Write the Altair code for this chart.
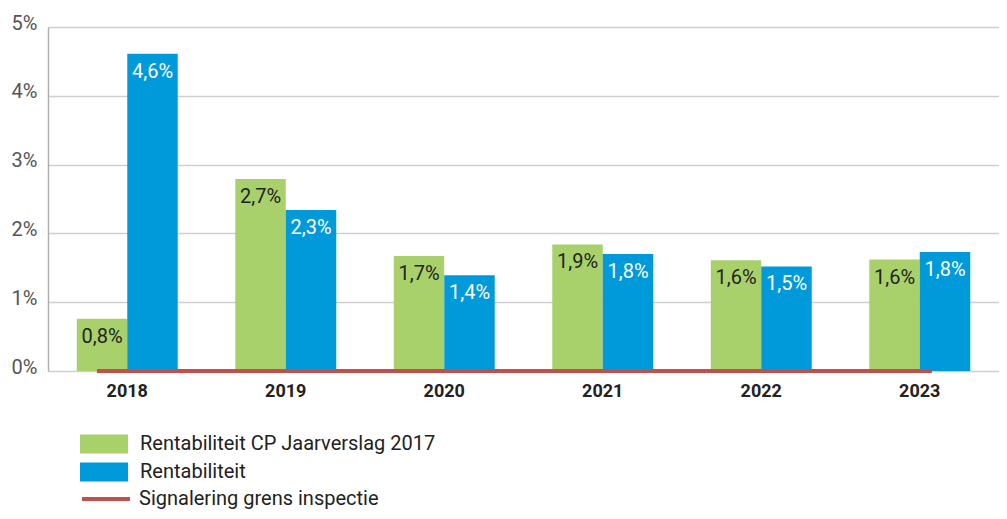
import altair as alt
import pandas as pd

years = ["2018", "2019", "2020", "2021", "2022", "2023"]
series_names = ["Rentabiliteit CP Jaarverslag 2017", "Rentabiliteit"]
line_name = "Signalering grens inspectie"

# bar heights (percent)
jaarverslag_2017 = [0.76, 2.79, 1.67, 1.84, 1.61, 1.62]
rentabiliteit = [4.61, 2.34, 1.39, 1.70, 1.52, 1.73]
# printed labels
jaarverslag_2017_labels = ["0,8%", "2,7%", "1,7%", "1,9%", "1,6%", "1,6%"]
rentabiliteit_labels = ["4,6%", "2,3%", "1,4%", "1,8%", "1,5%", "1,8%"]

y_ticks = [0, 1, 2, 3, 4, 5]
signal_level = 0.0

rows = []
for i, y in enumerate(years):
    rows.append({"year": y, "series": series_names[0], "value": jaarverslag_2017[i], "label": jaarverslag_2017_labels[i]})
    rows.append({"year": y, "series": series_names[1], "value": rentabiliteit[i], "label": rentabiliteit_labels[i]})
df = pd.DataFrame(rows)

line_df = pd.DataFrame([{"start": years[0], "end": years[-1], "v": signal_level, "name": line_name}])

FONT = "Roboto"
GREEN = "#a9d16b"
BLUE = "#0099da"
RED = "#c0504d"

x_scale = alt.Scale(domain=years, paddingInner=0.363, paddingOuter=0.1815)
y_scale = alt.Scale(domain=[0, 5], nice=False)
off_scale = alt.Scale(domain=series_names, paddingInner=0, paddingOuter=0)

rect_path = "M-2.4,-0.95H2.4V0.95H-2.4Z"

base = alt.Chart(df)

bars = base.mark_bar().encode(
    x=alt.X("year:N", scale=x_scale, sort=years,
            axis=alt.Axis(title=None, labelAngle=0, domain=False, ticks=False,
                          labelFont=FONT, labelFontSize=18, labelFontWeight="bold",
                          labelColor="#222222", labelPadding=11, grid=False)),
    xOffset=alt.XOffset("series:N", scale=off_scale, sort=series_names),
    y=alt.Y("value:Q", scale=y_scale,
            axis=alt.Axis(title=None, values=y_ticks, labelExpr="datum.value + '%'",
                          domain=True, domainColor="#b0b0b0", domainWidth=1.5,
                          ticks=False, grid=True, gridColor="#cfcfcf", gridWidth=1.5,
                          labelFont=FONT, labelFontSize=20, labelColor="#555555",
                          labelPadding=11, labelOffset=-4)),
    fill=alt.Fill("series:N",
                  scale=alt.Scale(domain=series_names, range=[GREEN, BLUE]),
                  legend=alt.Legend(title=None, orient="none", legendX=46, legendY=407,
                                    symbolType=rect_path, symbolSize=400,
                                    symbolStrokeWidth=0, labelFont=FONT,
                                    labelFontSize=20, labelColor="#222222",
                                    labelOffset=26, rowPadding=8, padding=0)),
)

texts = base.mark_text(font=FONT, fontSize=20, baseline="middle", align="center", dy=18).encode(
    x=alt.X("year:N", scale=x_scale, sort=years),
    xOffset=alt.XOffset("series:N", scale=off_scale, sort=series_names),
    y=alt.Y("value:Q", scale=y_scale),
    text="label:N",
    color=alt.condition(alt.datum.series == series_names[1], alt.value("white"), alt.value("#222222")),
)

rule = alt.Chart(line_df).mark_rule(strokeWidth=4).encode(
    x=alt.X("start:N", scale=x_scale, sort=years, bandPosition=0.2),
    x2=alt.X2("end:N", bandPosition=0.62),
    y=alt.Y("v:Q", scale=y_scale),
    stroke=alt.Stroke("name:N", scale=alt.Scale(domain=[line_name], range=[RED]),
                      legend=alt.Legend(title=None, orient="none", legendX=46, legendY=460,
                                        symbolType="M-2.4,0H2.4", symbolSize=400,
                                        symbolStrokeWidth=4, labelFont=FONT,
                                        labelFontSize=20, labelColor="#222222",
                                        labelOffset=21, padding=0)),
)

chart = alt.layer(bars, texts, rule).properties(
    width=951, height=344,
    padding={"left": 40, "top": 19, "right": 0, "bottom": 140},
    autosize=alt.AutoSizeParams(type="none"),
).configure_view(stroke=None).configure_legend(labelLimit=500)

chart.save("out.html", embed_options={"renderer": "svg", "actions": False})
